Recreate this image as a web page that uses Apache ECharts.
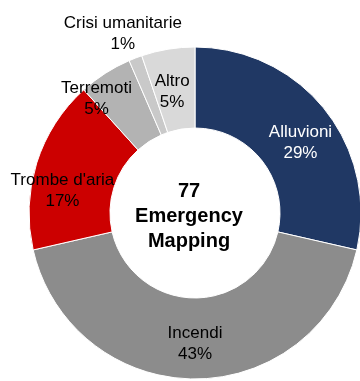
<!DOCTYPE html>
<html>
<head>
<meta charset="utf-8">
<script src="https://cdn.jsdelivr.net/npm/echarts@6/dist/echarts.min.js"></script>
<style>
html, body { margin: 0; padding: 0; background: #fff; }
#chart { width: 360px; height: 381px; }
</style>
</head>
<body>
<div id="chart"></div>
<script>
// Emergency Mapping activations by event type (count out of 77)
const categories = ['Alluvioni', 'Incendi', "Trombe d'aria", 'Terremoti', 'Crisi umanitarie', 'Altro'];
const counts = [22, 33, 13, 4, 1, 4];
const colors = ['#203864', '#8c8c8c', '#cc0000', '#b3b3b3', '#c9c9c9', '#d9d9d9'];
const labelColors = ['#ffffff', '#000000', '#000000', '#000000', '#000000', '#000000'];
const labelOffsets = [[5, 10], [0, 2], [-10, 17], [-29, -6], [-26, -59], [-2, 6]];
const total = counts.reduce((a, b) => a + b, 0);

const cx = 195, cy = 213;
const chart = echarts.init(document.getElementById('chart'), null, { renderer: 'canvas' });

chart.setOption({
  animation: false,
  series: [{
    type: 'pie',
    center: [cx, cy],
    radius: [85, 166],
    startAngle: 90,
    clockwise: true,
    silent: true,
    itemStyle: { borderColor: '#ffffff', borderWidth: 1 },
    label: {
      show: true,
      position: 'inside',
      fontFamily: 'Liberation Sans, Arial, sans-serif',
      fontSize: 17,
      lineHeight: 21,
      formatter: p => p.name + '\n' + Math.round(p.value / total * 100) + '%'
    },
    labelLine: { show: false },
    data: categories.map((name, i) => ({
      name,
      value: counts[i],
      itemStyle: { color: colors[i] },
      label: { color: labelColors[i], offset: labelOffsets[i] }
    }))
  }],
  graphic: [{
    type: 'text',
    x: cx - 6,
    y: cy + 3,
    style: {
      text: total + '\nEmergency\nMapping',
      fill: '#000',
      font: 'bold 20px "Liberation Sans", Arial, sans-serif',
      lineHeight: 25,
      align: 'center',
      verticalAlign: 'middle'
    }
  }]
});
</script>
</body>
</html>
